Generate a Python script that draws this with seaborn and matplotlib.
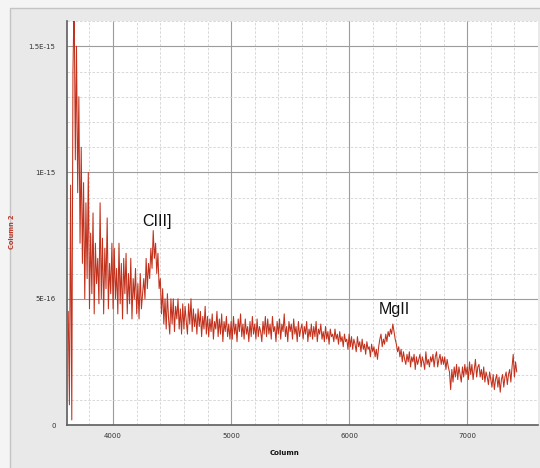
import numpy as np
import pandas as pd
import matplotlib
matplotlib.use("Agg")
import matplotlib.pyplot as plt
from matplotlib.patches import Rectangle
from matplotlib.ticker import MultipleLocator, FixedLocator, FixedFormatter
import seaborn as sns

# Spectrum: wavelength grid (Angstrom) and flux in units of 1e-17
wave_start = 3620
wave_step = 10
flux_e17 = [
    45, 8, 95, 2, 140, 170, 105, 150,
    92, 130, 72, 110, 64, 96, 50, 88, 58, 100,
    46, 76, 52, 84, 44, 72, 56, 66, 48, 88,
    50, 74, 44, 70, 54, 82, 46, 64, 52, 72,
    46, 70, 50, 62, 44, 72, 48, 64, 42, 66,
    52, 68, 44, 60, 48, 66, 42, 58, 50, 62,
    44, 56, 42, 60, 46, 52, 58, 50, 66, 54,
    64, 58, 70, 62, 77, 66, 72, 60, 68, 54,
    58, 44, 54, 40, 50, 38, 52, 42, 36, 50,
    40, 50, 37, 47, 42, 50, 38, 46, 36, 48,
    38, 47, 41, 36, 48, 40, 50, 37, 46, 39,
    44, 36, 46, 39, 45, 35, 43, 38, 47, 36,
    43, 35, 42, 37, 44, 34, 41, 38, 45, 35,
    42, 36, 44, 33, 41, 37, 43, 35, 40, 34,
    41, 34, 43, 36, 40, 33, 42, 37, 44, 35,
    40, 34, 42, 36, 39, 33, 41, 35, 43, 36,
    40, 34, 42, 35, 39, 37, 33, 41, 36, 43,
    35, 42, 36, 40, 34, 43, 37, 39, 33, 41,
    36, 42, 34, 40, 37, 44, 35, 39, 33, 41,
    37, 40, 34, 42, 36, 39, 33, 41, 35, 38,
    40, 34, 39, 36, 41, 33, 38, 35, 40, 34,
    39, 35, 41, 33, 38, 36, 40, 34, 37, 33,
    39, 34, 37, 32, 38, 35, 36, 33, 38, 34,
    36, 32, 37, 33, 35, 31, 36, 33, 34, 30,
    36, 31, 35, 30, 34, 32, 29, 35, 31, 33,
    29, 34, 30, 32, 28, 33, 30, 31, 27, 32,
    29, 31, 27, 30, 26, 31, 34, 36, 31, 34,
    32, 36, 33, 37, 35, 38, 36, 40, 37, 34,
    32, 29, 31, 27, 30, 25, 29, 26, 24, 28,
    25, 29, 23, 27, 25, 28, 22, 27, 24, 26,
    28, 23, 27, 25, 22, 29, 24, 26, 23, 27,
    25, 28, 23, 27, 29, 23, 26, 28, 24, 27,
    24, 27, 22, 26, 23, 21, 14, 22, 17, 23,
    19, 24, 18, 23, 20, 17, 23, 19, 24, 20,
    23, 18, 25, 20, 24, 18, 22, 26, 19, 23,
    24, 19, 22, 18, 23, 17, 21, 19, 16, 21,
    18, 15, 20, 14, 18, 20, 15, 19, 13, 18,
    20, 15, 19, 21, 16, 20, 22, 17, 23, 28,
    19, 25, 21,
]

x_ticks = [4000, 5000, 6000, 7000]
x_tick_labels = ["4000", "5000", "6000", "7000"]
y_ticks = [0, 5e-16, 1e-15, 1.5e-15]
y_tick_labels = ["0", "5E-16", "1E-15", "1.5E-15"]

line_labels = ["CIII]", "MgII"]
line_label_x = [4246, 6254]
line_label_y = [7.9e-16, 4.4e-16]

wavelength = wave_start + wave_step * np.arange(len(flux_e17))
df = pd.DataFrame({"Column": wavelength,
                   "Column 2": np.array(flux_e17, dtype=float) * 1e-17})

sns.set_style("white")
plt.rcParams["font.family"] = ["DejaVu Sans"]

W, H = 540, 468
fig = plt.figure(figsize=(W / 100, H / 100), dpi=100, facecolor="#f4f4f4")
# grey panel behind the plot, with its thin frame on the top and left
fig.patches.append(Rectangle((10 / W, -0.01), 1.0, (H - 8) / H + 0.01,
                             transform=fig.transFigure, facecolor="#e9e9e9",
                             edgecolor="#c4c4c4", lw=1.0, zorder=-5))

ax = fig.add_axes([66.7 / W, 1 - 425 / H, (538 - 66.7) / W, (425 - 21) / H])
ax.set_zorder(2)
ax.set_facecolor("white")

sns.lineplot(data=df, x="Column", y="Column 2", ax=ax, color="#c2311c",
             lw=0.75, estimator=None, errorbar=None, zorder=3)

ax.set_xlim(3607, 7600)
ax.set_ylim(0, 1.6e-15)

ax.xaxis.set_major_locator(FixedLocator(x_ticks))
ax.xaxis.set_major_formatter(FixedFormatter(x_tick_labels))
ax.xaxis.set_minor_locator(MultipleLocator(200))
ax.yaxis.set_major_locator(FixedLocator(y_ticks))
ax.yaxis.set_major_formatter(FixedFormatter(y_tick_labels))
ax.yaxis.set_minor_locator(MultipleLocator(1e-16))

ax.grid(which="major", color="#9c9c9c", lw=0.8, ls="-")
ax.grid(which="minor", color="#d2d2d2", lw=0.6, ls=(0, (3, 2)))
ax.set_axisbelow(True)

for s in ("top", "right"):
    ax.spines[s].set_visible(False)
for s in ("left", "bottom"):
    ax.spines[s].set_color("#5e5e5e")
    ax.spines[s].set_linewidth(1.2)

ax.tick_params(axis="x", which="major", length=2.5, width=0.8, color="#888888",
               labelsize=5, labelcolor="#333333", pad=3.5)
ax.tick_params(axis="x", which="minor", length=2.5, width=0.6, color="#aaaaaa")
ax.tick_params(axis="y", which="major", length=5, width=0.8, color="#888888",
               labelsize=5, labelcolor="#333333", pad=3)
ax.tick_params(axis="y", which="minor", length=3, width=0.6, color="#aaaaaa")

ax.set_xlabel("Column", fontsize=5, fontweight="bold", color="#111111")
ax.set_ylabel("Column 2", fontsize=4.8, fontweight="bold", color="#c0392b")
ax.xaxis.set_label_coords((285 - 66.7) / (538 - 66.7), -(450 - 425) / (425 - 21))
ax.yaxis.set_label_coords(-(66.7 - 15) / (538 - 66.7), (425 - 232) / (425 - 21))

for txt, lx, ly in zip(line_labels, line_label_x, line_label_y):
    ax.text(lx, ly, txt, fontsize=11.5, color="#111111", va="baseline",
            ha="left", family=["Liberation Sans", "DejaVu Sans"], zorder=4)

fig.savefig("out.png", dpi=100, facecolor=fig.get_facecolor())
